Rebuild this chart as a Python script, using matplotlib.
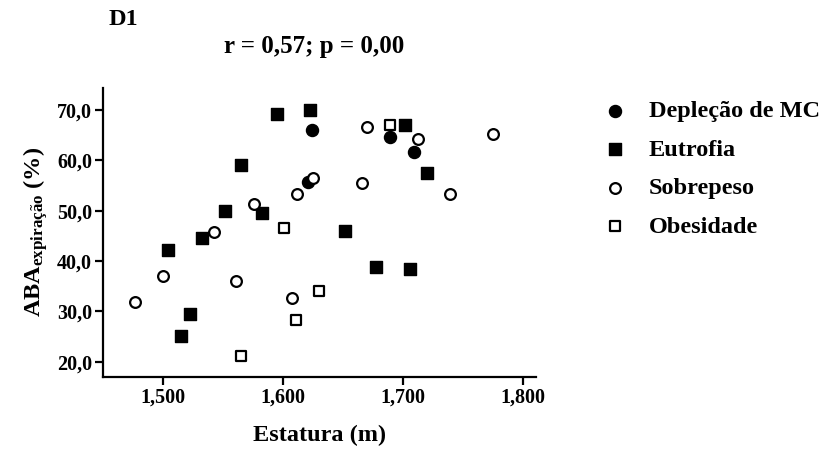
import matplotlib
matplotlib.use("Agg")
import matplotlib.pyplot as plt
from matplotlib.ticker import FuncFormatter

plt.rcParams['font.family'] = ['Liberation Serif', 'DejaVu Serif']
plt.rcParams['font.weight'] = 'bold'
plt.rcParams['mathtext.fontset'] = 'custom'
plt.rcParams['mathtext.rm'] = 'Liberation Serif:bold'
plt.rcParams['mathtext.it'] = 'Liberation Serif:bold'
plt.rcParams['mathtext.bf'] = 'Liberation Serif:bold'

# Data
deplecao_x = [1.624, 1.621, 1.689, 1.709]
deplecao_y = [66.0, 55.6, 64.7, 61.7]

eutrofia_x = [1.595, 1.623, 1.565, 1.552, 1.583, 1.533, 1.504, 1.652, 1.702, 1.720, 1.678, 1.706, 1.523, 1.515]
eutrofia_y = [69.2, 69.9, 59.0, 49.9, 49.6, 44.5, 42.2, 45.9, 67.0, 57.4, 38.8, 38.4, 29.4, 25.1]

sobrepeso_x = [1.625, 1.612, 1.576, 1.543, 1.500, 1.561, 1.670, 1.713, 1.775, 1.666, 1.739, 1.477, 1.608]
sobrepeso_y = [56.4, 53.3, 51.3, 45.8, 37.0, 36.1, 66.7, 64.2, 65.2, 55.5, 53.4, 31.8, 32.6]

obesidade_x = [1.601, 1.689, 1.630, 1.611, 1.565]
obesidade_y = [46.6, 67.0, 34.0, 28.2, 21.1]

labels = ['Depleção de MC', 'Eutrofia', 'Sobrepeso', 'Obesidade']
x_ticks = [1.5, 1.6, 1.7, 1.8]
y_ticks = [20, 30, 40, 50, 60, 70]

fig = plt.figure(figsize=(8.3, 4.5), dpi=100)
ax = fig.add_axes([0.1245, 0.1633, 0.6458 - 0.1245, 0.8038 - 0.1633])

ms = 75
lw = 1.6
ax.scatter(deplecao_x, deplecao_y, s=ms, marker='o', c='black', label=labels[0], zorder=3)
ax.scatter(eutrofia_x, eutrofia_y, s=ms, marker='s', c='black', label=labels[1], zorder=3)
ax.scatter(sobrepeso_x, sobrepeso_y, s=ms * 0.8, marker='o', facecolors='white', edgecolors='black', linewidths=lw, label=labels[2], zorder=3)
ax.scatter(obesidade_x, obesidade_y, s=ms * 0.8, marker='s', facecolors='white', edgecolors='black', linewidths=lw, label=labels[3], zorder=3)

ax.set_xlim(1.4505, 1.811)
ax.set_ylim(17.05, 74.3)
ax.set_xticks(x_ticks)
ax.set_yticks(y_ticks)
ax.xaxis.set_major_formatter(FuncFormatter(lambda v, p: f"{v:.3f}".replace('.', ',')))
ax.yaxis.set_major_formatter(FuncFormatter(lambda v, p: f"{v:.1f}".replace('.', ',')))

for s in ['top', 'right']:
    ax.spines[s].set_visible(False)
for s in ['left', 'bottom']:
    ax.spines[s].set_linewidth(1.6)
ax.tick_params(axis='both', direction='out', length=5.5, width=1.6, labelsize=14.5, pad=2.5)
for t in ax.get_xticklabels() + ax.get_yticklabels():
    t.set_fontweight('bold')

big = 17.5
ax.set_xlabel('Estatura (m)', fontsize=big, fontweight='bold')
ax.set_ylabel(r'ABA$_{\mathrm{expiração}}$ (%)', fontsize=big, fontweight='bold')
ax.xaxis.set_label_coords(0.5, -0.169)
ax.yaxis.set_label_coords(-0.1235, 0.5)

fig.text(109 / 830, 1 - 19.5 / 450, 'D1', fontsize=big, fontweight='bold', ha='left', va='center')
fig.text(314 / 830, 1 - 47 / 450, 'r = 0,57; p = 0,00', fontsize=18, fontweight='bold', ha='center', va='center')

leg = fig.legend(loc='upper left', bbox_to_anchor=(591 / 830, 1 - 88 / 450), frameon=False,
                 labelspacing=0.68, handletextpad=0.87, borderpad=0, handlelength=1.0,
                 prop={'weight': 'bold', 'size': big})

fig.savefig('out.png', dpi=100)
